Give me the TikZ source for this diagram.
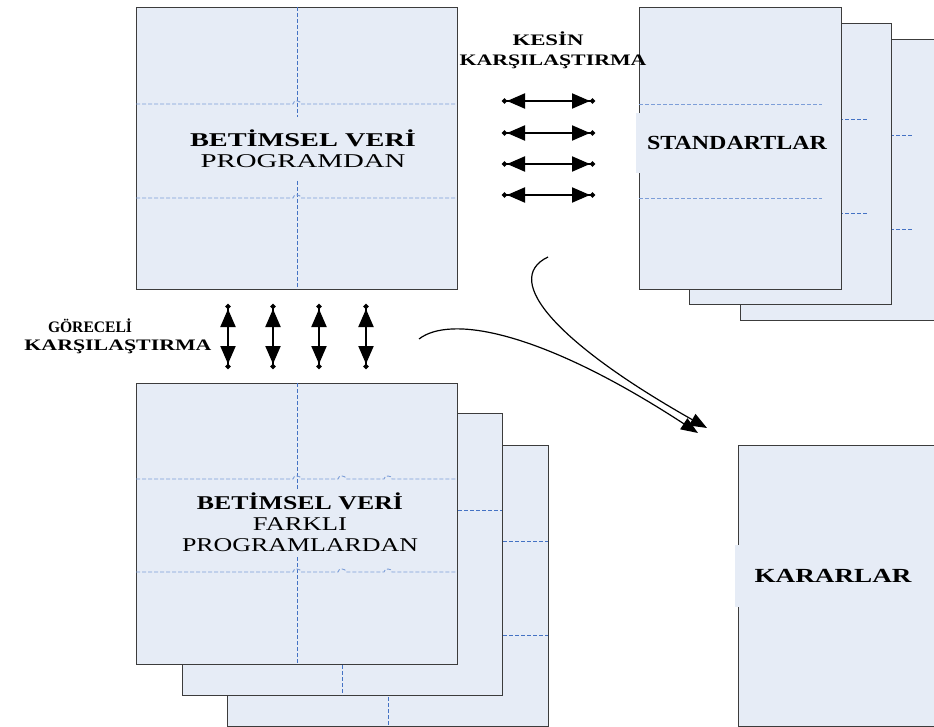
\documentclass[tikz,border=0pt]{standalone}
\usepackage{fontspec}
\setmainfont{Liberation Serif}
\usetikzlibrary{arrows.meta}
\definecolor{boxfill}{RGB}{230,236,246}
\definecolor{boxline}{RGB}{60,60,60}
\definecolor{dashdark}{RGB}{68,114,196}
\definecolor{dashlight}{RGB}{125,158,216}
\newcommand\wtxt[2]{\resizebox{#1pt}{\height}{#2}}
\begin{document}
\begin{tikzpicture}[x=1pt,y=-1pt,
  sheet/.style={draw=boxline,fill=boxfill,line width=0.9pt},
  vdash/.style={draw=dashdark,line width=0.8pt,dash pattern=on 4pt off 2pt},
  hdash/.style={draw=dashlight,line width=0.9pt,dash pattern=on 4pt off 2pt},
  bdash/.style={draw=dashdark,line width=0.8pt,dash pattern=on 4pt off 2pt},
  txtfill/.style={fill=boxfill,inner sep=0pt,align=center,text=black},
  bigfont/.style={font=\fontsize{19.5}{21}\selectfont},
  bigbold/.style={font=\fontsize{20}{22}\selectfont\bfseries},
  lbl/.style={inner sep=0pt,anchor=base,font=\fontsize{16}{18}\selectfont\bfseries},
  dbl/.style={line width=2pt,{Circle[length=5pt] Triangle[length=18pt,width=15pt]}-{Triangle[length=18pt,width=15pt] Circle[length=5pt]}},
  curv/.style={line width=1.2pt,-{Triangle[length=17pt,width=13pt]}}
]
\useasboundingbox (0,0) rectangle (934,727);
\clip (0,0) rectangle (934,727);

% ---------- top-left: BETIMSEL VERI PROGRAMDAN ----------
\node[sheet,minimum width=321pt,minimum height=282pt,inner sep=0pt,anchor=north west] (prog) at (136,7) {};
\draw[vdash] (297,7) -- (297,289);
\draw[hdash] (136,104) -- (293,104) .. controls (293,100) and (301,100) .. (301,104) -- (457,104);
\draw[hdash] (136,198) -- (293,198) .. controls (293,194) and (301,194) .. (301,198) -- (457,198);
\node[txtfill,bigfont,minimum width=240pt,minimum height=63pt] (progtxt) at (303,148.5)
  {\wtxt{226}{\bfseries BETİMSEL VERİ}\\\wtxt{205}{PROGRAMDAN}};

% ---------- standards stack ----------
\path[sheet] (740,39) rectangle (942,320);
\draw[bdash] (740,135) -- (913,135);
\draw[bdash] (740,229) -- (913,229);
\path[sheet] (689,23) rectangle (891,304);
\draw[bdash] (689,119) -- (868,119);
\draw[bdash] (689,213) -- (868,213);
\node[sheet,minimum width=202pt,minimum height=282pt,inner sep=0pt,anchor=north west] (std) at (639,7) {};
\draw[hdash] (639,104) -- (822,104);
\draw[hdash] (639,198) -- (822,198);
\node[txtfill,bigbold,minimum width=202pt,minimum height=60pt] (stdtxt) at (737,143)
  {\wtxt{180}{STANDARTLAR}};

% ---------- bottom stack ----------
\path[sheet] (227,445) rectangle (548,726);
\draw[bdash] (388,445) -- (388,726);
\draw[bdash] (227,541) -- (548,541);
\draw[bdash] (227,635) -- (548,635);
\path[sheet] (182,413) rectangle (502,695);
\draw[bdash] (342,413) -- (342,695);
\draw[bdash] (182,510) -- (502,510);
\node[sheet,minimum width=321pt,minimum height=281pt,inner sep=0pt,anchor=north west] (diff) at (136,383) {};
\draw[vdash] (297,383) -- (297,664);
\draw[hdash] (136,479) -- (293,479) .. controls (293,475) and (301,475) .. (301,479)
  -- (338,479) .. controls (338,475) and (346,475) .. (346,479)
  -- (384,479) .. controls (384,475) and (392,475) .. (392,479) -- (457,479);
\draw[hdash] (136,572) -- (293,572) .. controls (293,568) and (301,568) .. (301,572)
  -- (338,572) .. controls (338,568) and (346,568) .. (346,572)
  -- (384,572) .. controls (384,568) and (392,568) .. (392,572) -- (457,572);
\node[txtfill,bigfont,minimum width=250pt,minimum height=65pt] (difftxt) at (300,522)
  {\wtxt{206}{\bfseries BETİMSEL VERİ}\\\wtxt{94}{FARKLI}\\\wtxt{236}{PROGRAMLARDAN}};

% ---------- KARARLAR ----------
\node[sheet,minimum width=202pt,minimum height=281pt,inner sep=0pt,anchor=north west] (karar) at (738,445) {};
\node[txtfill,bigbold,minimum width=196pt,minimum height=62pt] (karartxt) at (833,576)
  {\wtxt{157}{KARARLAR}};

% ---------- labels ----------
\node[lbl] (kesin1) at (548,46) {\wtxt{71}{KESİN}};
\node[lbl] (kesin2) at (553,66) {\wtxt{187}{KARŞILAŞTIRMA}};
\node[lbl] (gore1) at (90,332) {\wtxt{84}{GÖRECELİ}};
\node[lbl] (gore2) at (118,350) {\wtxt{187}{KARŞILAŞTIRMA}};

% ---------- exact comparison arrows ----------
\foreach \i/\yy in {1/101,2/133,3/164,4/195}{
  \coordinate (ha\i) at (502,\yy);
  \coordinate (hb\i) at (595,\yy);
  \draw[dbl] (ha\i) -- (hb\i);
}
% ---------- relative comparison arrows ----------
\foreach \i/\xx in {1/228,2/273,3/319,4/366}{
  \coordinate (va\i) at (\xx,304);
  \coordinate (vb\i) at (\xx,369);
  \draw[dbl] (va\i) -- (vb\i);
}

% ---------- curved arrows to KARARLAR ----------
\coordinate (c1s) at (548,257);
\coordinate (c1e) at (707,428);
\coordinate (c2s) at (419,339);
\coordinate (c2e) at (698,433);
\draw[curv] (c1s) .. controls (500,280) and (560,345) .. (c1e);
\draw[curv] (c2s) .. controls (450,315) and (540,330) .. (c2e);
\end{tikzpicture}
\end{document}
